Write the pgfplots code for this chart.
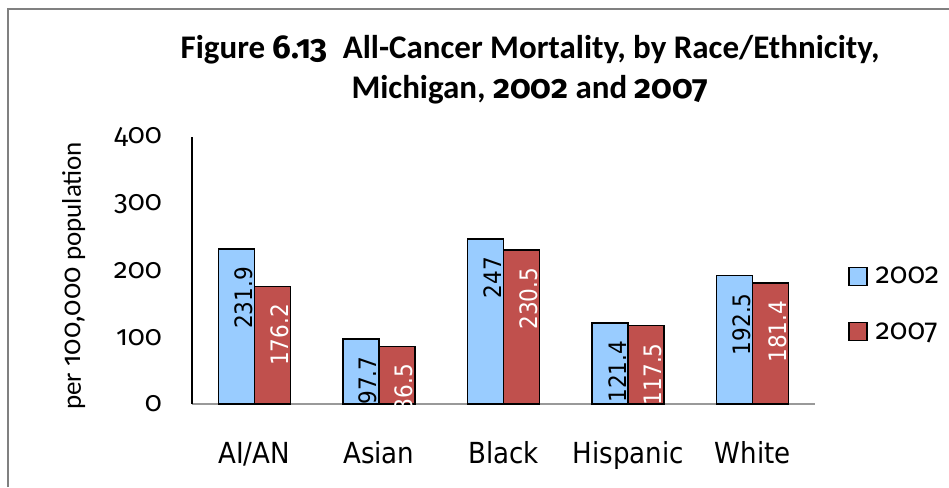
\documentclass[border=0pt]{standalone}
\usepackage{pgfplots}
\pgfplotsset{compat=1.18}
\usepackage{fontspec}
\setmainfont{Carlito}
\newfontfamily\onum{Fira Sans}[Numbers=OldStyle]
\newfontfamily\labfont{DejaVu Sans Condensed}
\definecolor{bar02}{RGB}{153,204,255}
\definecolor{bar07}{RGB}{192,80,77}
\begin{document}
\begin{tikzpicture}
\useasboundingbox (0,0) rectangle (949pt,487pt);
% frame remains of the original chart box
\draw[gray, line width=1.5pt] (8pt,0) -- (8pt,478pt) -- (949pt,478pt);
% title
\node[anchor=base, font=\bfseries\fontsize{33}{36}\selectfont] at (530pt,428pt) {Figure {\onum 6.13}\ \ All-Cancer Mortality, by Race/Ethnicity,};
\node[anchor=base, font=\bfseries\fontsize{33}{36}\selectfont] at (530pt,388pt) {Michigan, {\onum 2002} and {\onum 2007}};
\begin{axis}[
  at={(192pt,83pt)}, anchor=south west,
  scale only axis, width=623pt, height=267pt,
  ybar=0pt, bar width=36pt,
  xmin=-0.5, xmax=4.5, ymin=0, ymax=400,
  xtick=data,
  xticklabels={AI/AN, Asian, Black, Hispanic, White},
  ytick={0,100,200,300,400},
  axis lines*=left,
  x axis line style={gray!80, line width=1.5pt},
  y axis line style={black, line width=1.2pt},
  major tick length=0pt,
  /pgf/number format/assume math mode=true,
  yticklabel style={font=\onum\fontsize{28}{28}\selectfont, inner sep=0pt, xshift=-30pt},
  xticklabel style={font=\labfont\fontsize{29}{29}\selectfont, anchor=base, yshift=-59pt},
  ylabel={per {\onum 100,000} population},
  every axis y label/.style={at={(axis description cs:-0.19,0.48)}, rotate=90, anchor=center, font=\fontsize{27}{27}\selectfont},
  nodes near coords,
  nodes near coords style={font=\labfont\fontsize{24}{24}\selectfont, rotate=90, anchor=east, inner sep=0pt, xshift=-17pt, yshift=-7pt},
  point meta=explicit symbolic,
  legend image code/.code={\draw[#1, line width=1.5pt] (0pt,-9pt) rectangle (18pt,9pt);},
  legend style={at={(1.048,0.375)}, anchor=west, draw=none, fill=none,
    font=\onum\fontsize{29}{29}\selectfont, row sep=33pt,
    nodes={inner xsep=8pt}},
  legend cell align=left,
]
\addplot[fill=bar02, draw=black, line width=1.5pt] coordinates {
  (0,231.9) [231.9] (1,97.7) [97.7] (2,247) [247] (3,121.4) [121.4] (4,192.5) [192.5]
};
\addplot[fill=bar07, draw=black, line width=1.5pt, nodes near coords style={text=white}] coordinates {
  (0,176.2) [176.2] (1,86.5) [86.5] (2,230.5) [230.5] (3,117.5) [117.5] (4,181.4) [181.4]
};
\legend{2002, 2007}
\end{axis}
\end{tikzpicture}
\end{document}
